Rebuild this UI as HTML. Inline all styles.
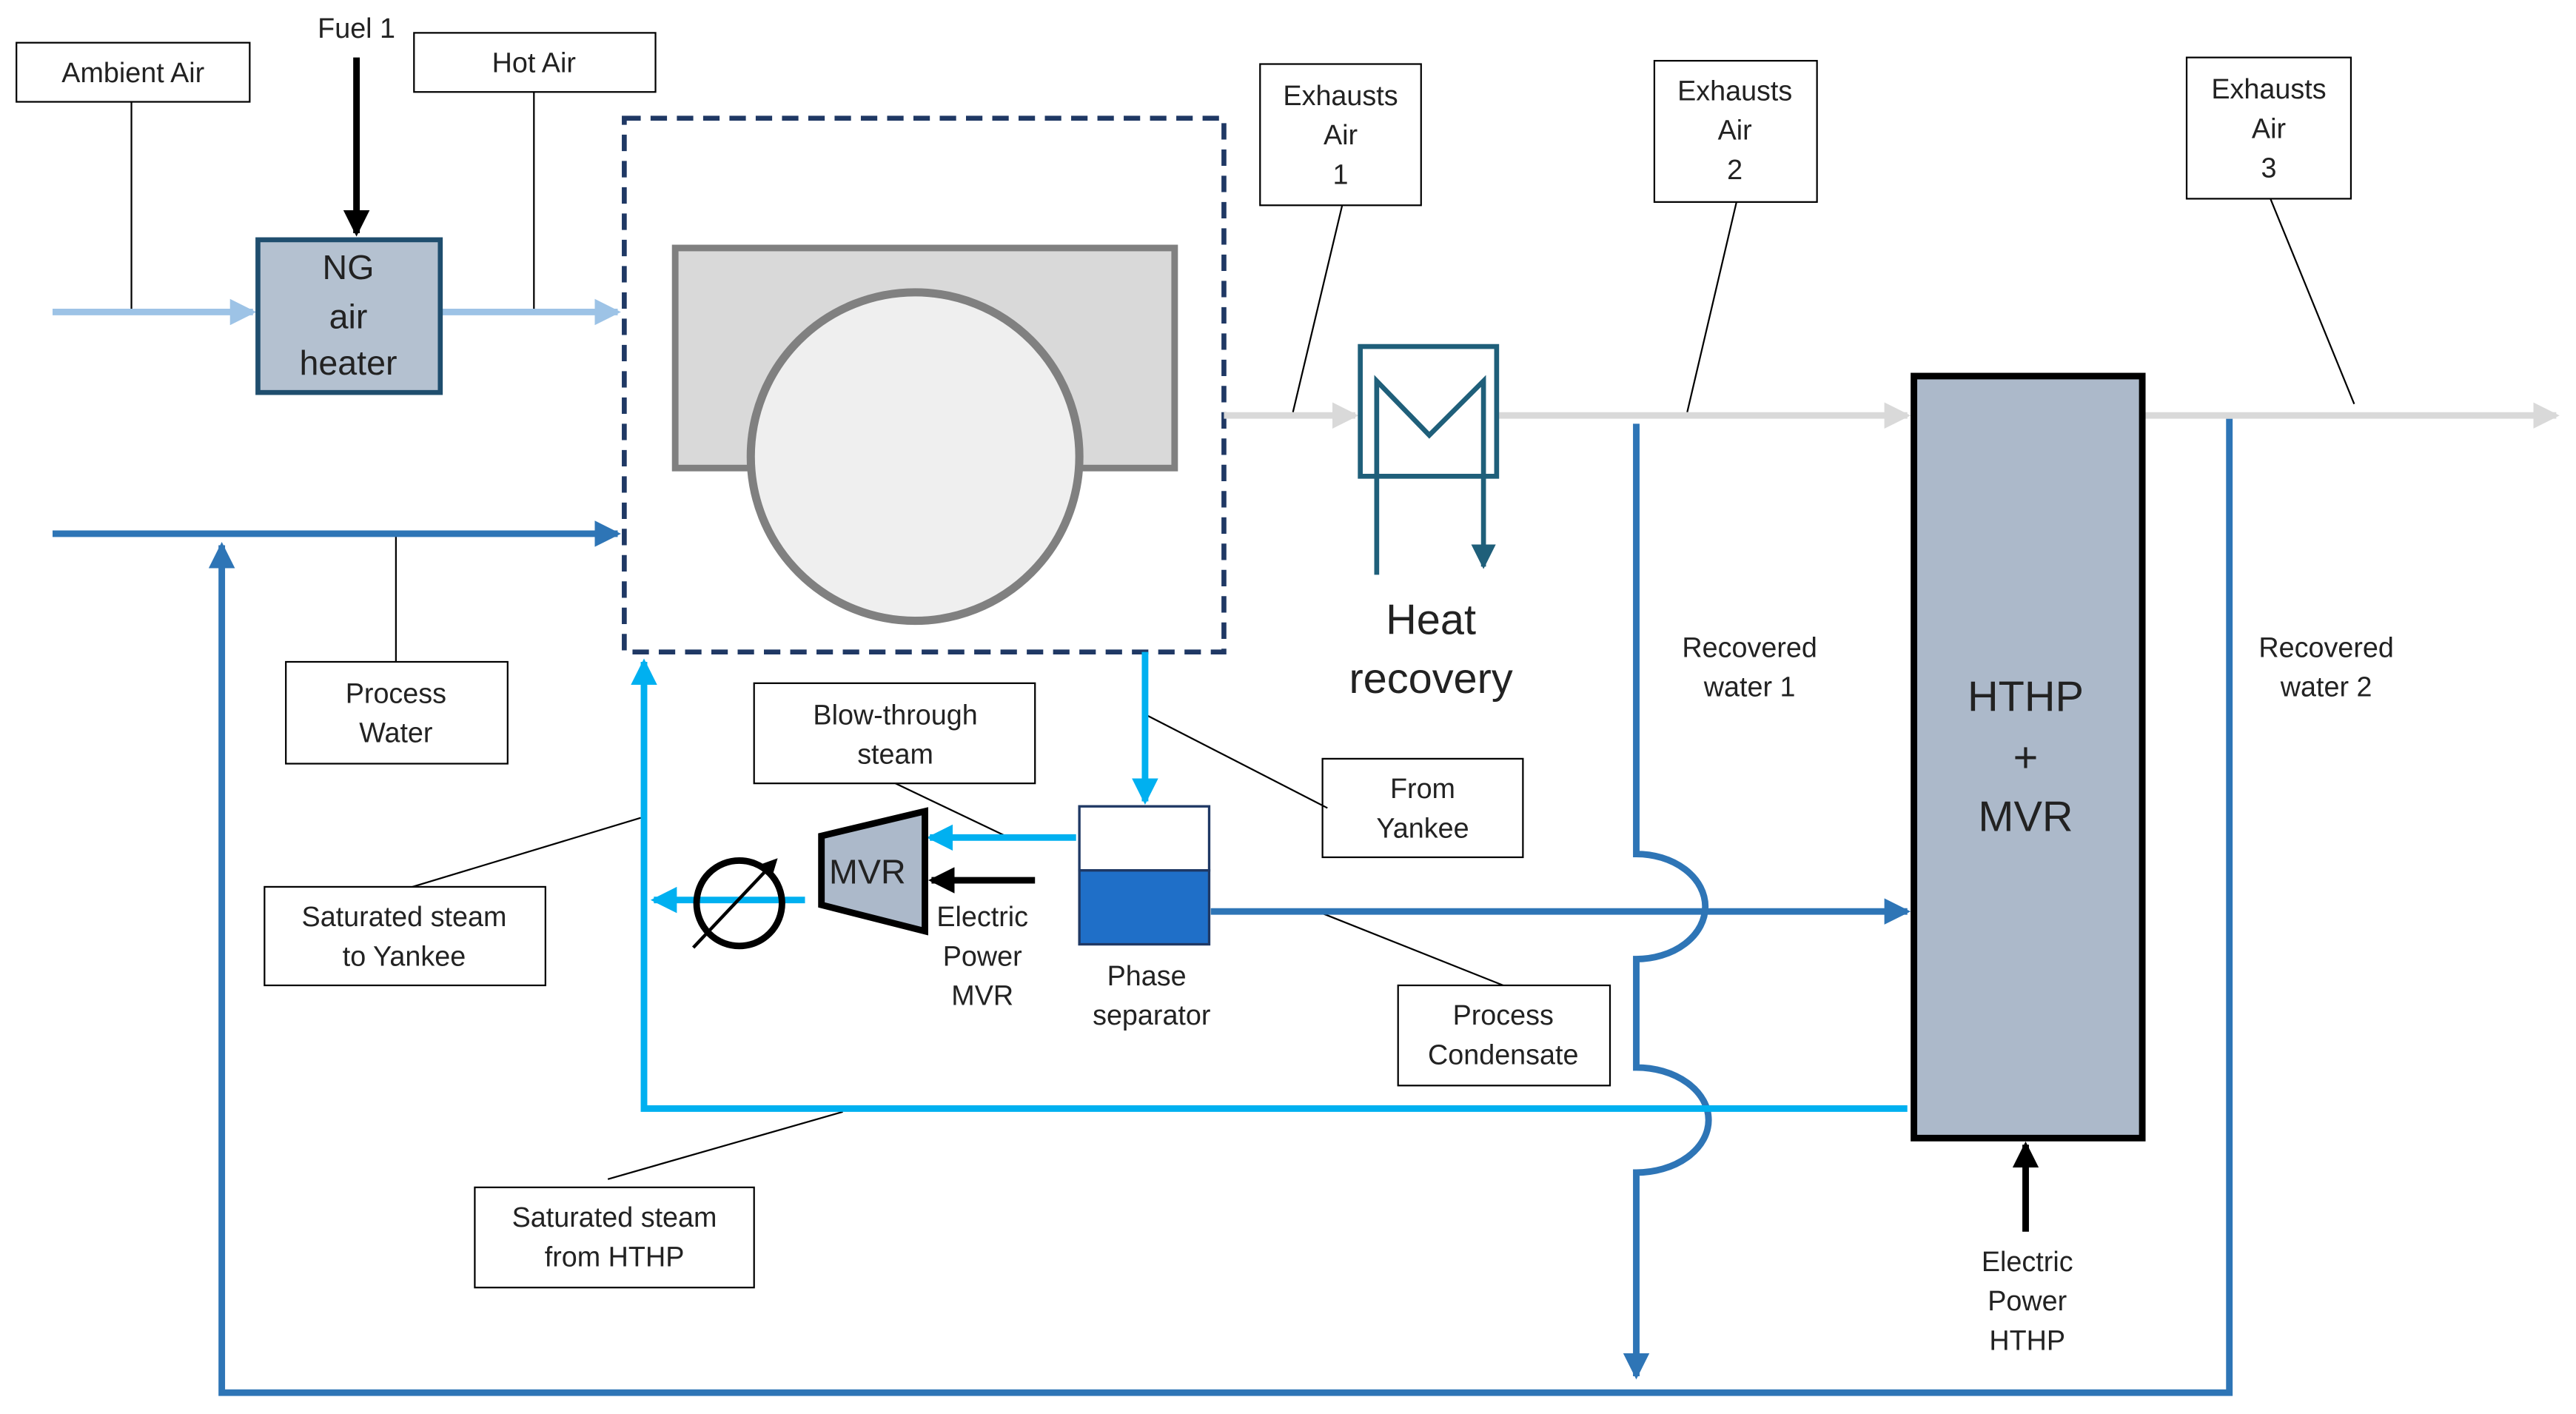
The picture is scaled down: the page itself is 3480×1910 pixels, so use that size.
<!DOCTYPE html>
<html><head><meta charset="utf-8"><style>html,body{margin:0;padding:0;background:#fff}svg{display:block}text{font-family:"Liberation Sans",sans-serif;fill:#222}</style></head><body>
<svg width="3480" height="1910" viewBox="0 0 1568 861" preserveAspectRatio="none" xmlns="http://www.w3.org/2000/svg">
<defs>
<marker id="aLB" markerWidth="4" markerHeight="4" refX="3.5" refY="2" orient="auto" markerUnits="strokeWidth"><path d="M0,0 L4,2 L0,4 z" fill="#9dc3e6"/></marker>
<marker id="aG" markerWidth="4" markerHeight="4" refX="3.5" refY="2" orient="auto" markerUnits="strokeWidth"><path d="M0,0 L4,2 L0,4 z" fill="#d9d9d9"/></marker>
<marker id="aB" markerWidth="4" markerHeight="4" refX="3.5" refY="2" orient="auto" markerUnits="strokeWidth"><path d="M0,0 L4,2 L0,4 z" fill="#2e75b6"/></marker>
<marker id="aC" markerWidth="4" markerHeight="4" refX="3.5" refY="2" orient="auto" markerUnits="strokeWidth"><path d="M0,0 L4,2 L0,4 z" fill="#00b0f0"/></marker>
<marker id="aK" markerWidth="4" markerHeight="4" refX="3.5" refY="2" orient="auto" markerUnits="strokeWidth"><path d="M0,0 L4,2 L0,4 z" fill="#000"/></marker>
<marker id="aT" markerWidth="5" markerHeight="5" refX="4.5" refY="2.5" orient="auto" markerUnits="strokeWidth"><path d="M0,0 L5,2.5 L0,5 z" fill="#1f5f7a"/></marker>
<marker id="aK2" markerWidth="6" markerHeight="6" refX="5" refY="3" orient="auto" markerUnits="strokeWidth"><path d="M0,0 L6,3 L0,6 z" fill="#000"/></marker>
</defs>
<g stroke="#000" stroke-width="1" fill="#fff">
<rect x="10" y="26" width="142" height="36"/>
<rect x="252" y="20" width="147" height="36"/>
<rect x="767" y="39" width="98" height="86"/>
<rect x="1007" y="37" width="99" height="86"/>
<rect x="1331" y="35" width="100" height="86"/>
<rect x="174" y="403" width="135" height="62"/>
<rect x="459" y="416" width="171" height="61"/>
<rect x="805" y="462" width="122" height="60"/>
<rect x="161" y="540" width="171" height="60"/>
<rect x="851" y="600" width="129" height="61"/>
<rect x="289" y="723" width="170" height="61"/>
</g>
<g stroke="#000" stroke-width="1">
<line x1="80" y1="62" x2="80" y2="190"/>
<line x1="325" y1="56" x2="325" y2="190"/>
<line x1="817" y1="125" x2="787" y2="251"/>
<line x1="1057" y1="123" x2="1027" y2="251"/>
<line x1="1382" y1="121" x2="1433" y2="246"/>
<line x1="241" y1="325" x2="241" y2="403"/>
<line x1="697" y1="435" x2="808" y2="492"/>
<line x1="545" y1="477" x2="612" y2="509"/>
<line x1="390" y1="498" x2="251" y2="540"/>
<line x1="802" y1="555" x2="915" y2="600"/>
<line x1="513" y1="677" x2="370" y2="718"/>
</g>
<line x1="32" y1="190" x2="154" y2="190" stroke="#9dc3e6" stroke-width="4" marker-end="url(#aLB)"/>
<line x1="268" y1="190" x2="376" y2="190" stroke="#9dc3e6" stroke-width="4" marker-end="url(#aLB)"/>
<line x1="217" y1="35" x2="217" y2="142" stroke="#000" stroke-width="4" marker-end="url(#aK)"/>
<rect x="157" y="146" width="111" height="93" fill="#b4c1d0" stroke="#1f4e6e" stroke-width="3"/>
<rect x="380" y="72" width="365" height="325" fill="none" stroke="#1f3864" stroke-width="3" stroke-dasharray="10,6"/>
<rect x="411" y="151" width="304" height="134" fill="#d9d9d9" stroke="#808080" stroke-width="4"/>
<circle cx="557" cy="278" r="100" fill="#efefef" stroke="#808080" stroke-width="5"/>
<line x1="32" y1="325" x2="376" y2="325" stroke="#2e75b6" stroke-width="4" marker-end="url(#aB)"/>
<polyline points="1357,255 1357,848 135,848 135,332" fill="none" stroke="#2e75b6" stroke-width="4" marker-end="url(#aB)"/>
<line x1="745" y1="253" x2="825" y2="253" stroke="#d9d9d9" stroke-width="4" marker-end="url(#aG)"/>
<line x1="911" y1="253" x2="1161" y2="253" stroke="#d9d9d9" stroke-width="4" marker-end="url(#aG)"/>
<line x1="1305" y1="253" x2="1556" y2="253" stroke="#d9d9d9" stroke-width="4" marker-end="url(#aG)"/>
<rect x="828" y="211" width="83" height="79" fill="#fff" stroke="#1f5f7a" stroke-width="3"/>
<polyline points="838,350 838,232 870,265 903,232 903,345" fill="none" stroke="#1f5f7a" stroke-width="3" marker-end="url(#aT)"/>
<path d="M996,258 V520 A42,32 0 0 1 996,584 V650 A44,32 0 0 1 996,714 V838" fill="none" stroke="#2e75b6" stroke-width="4" marker-end="url(#aB)"/>
<rect x="1165" y="229" width="139" height="464" fill="#acb9ca" stroke="#000" stroke-width="4"/>
<line x1="1233" y1="750" x2="1233" y2="697" stroke="#000" stroke-width="4" marker-end="url(#aK)"/>
<line x1="737" y1="555" x2="1161" y2="555" stroke="#2e75b6" stroke-width="4" marker-end="url(#aB)"/>
<line x1="697" y1="397" x2="697" y2="488" stroke="#00b0f0" stroke-width="4" marker-end="url(#aC)"/>
<line x1="655" y1="510" x2="566" y2="510" stroke="#00b0f0" stroke-width="4" marker-end="url(#aC)"/>
<line x1="490" y1="548" x2="398" y2="548" stroke="#00b0f0" stroke-width="4" marker-end="url(#aC)"/>
<polyline points="1161,675 392,675 392,403" fill="none" stroke="#00b0f0" stroke-width="4" marker-end="url(#aC)"/>
<line x1="630" y1="536" x2="567" y2="536" stroke="#000" stroke-width="4" marker-end="url(#aK)"/>
<rect x="657" y="491" width="79" height="39" fill="#fff" stroke="#1f3864" stroke-width="1.5"/>
<rect x="657" y="530" width="79" height="45" fill="#1f6fc8" stroke="#1f3864" stroke-width="1.5"/>
<polygon points="500,509 563,494 563,567 500,551" fill="#acb9ca" stroke="#000" stroke-width="4"/>
<ellipse cx="450" cy="550" rx="26" ry="26" fill="none" stroke="#000" stroke-width="4"/>
<line x1="422" y1="577" x2="472" y2="524" stroke="#000" stroke-width="2" marker-end="url(#aK2)"/>
<g font-size="17" text-anchor="middle">
<text x="81" y="50">Ambient Air</text>
<text x="217" y="23">Fuel 1</text>
<text x="325" y="44">Hot Air</text>
<text x="816" y="64">Exhausts</text><text x="816" y="88">Air</text><text x="816" y="112">1</text>
<text x="1056" y="61">Exhausts</text><text x="1056" y="85">Air</text><text x="1056" y="109">2</text>
<text x="1381" y="60">Exhausts</text><text x="1381" y="84">Air</text><text x="1381" y="108">3</text>
<text x="241" y="428">Process</text><text x="241" y="452">Water</text>
<text x="545" y="441">Blow-through</text><text x="545" y="465">steam</text>
<text x="866" y="486">From</text><text x="866" y="510">Yankee</text>
<text x="246" y="564">Saturated steam</text><text x="246" y="588">to Yankee</text>
<text x="915" y="624">Process</text><text x="915" y="648">Condensate</text>
<text x="374" y="747">Saturated steam</text><text x="374" y="771">from HTHP</text>
<text x="598" y="564">Electric</text><text x="598" y="588">Power</text><text x="598" y="612">MVR</text>
<text x="698" y="600">Phase</text><text x="701" y="624">separator</text>
<text x="1065" y="400">Recovered</text><text x="1065" y="424">water 1</text>
<text x="1416" y="400">Recovered</text><text x="1416" y="424">water 2</text>
<text x="1234" y="774">Electric</text><text x="1234" y="798">Power</text><text x="1234" y="822">HTHP</text>
</g>
<g font-size="21" text-anchor="middle">
<text x="212" y="170">NG</text><text x="212" y="200">air</text><text x="212" y="228">heater</text>
<text x="528" y="538">MVR</text>
</g>
<g font-size="26" text-anchor="middle">
<text x="871" y="386">Heat</text><text x="871" y="422">recovery</text>
<text x="1233" y="433">HTHP</text><text x="1233" y="470">+</text><text x="1233" y="506">MVR</text>
</g>
</svg>
</body></html>
